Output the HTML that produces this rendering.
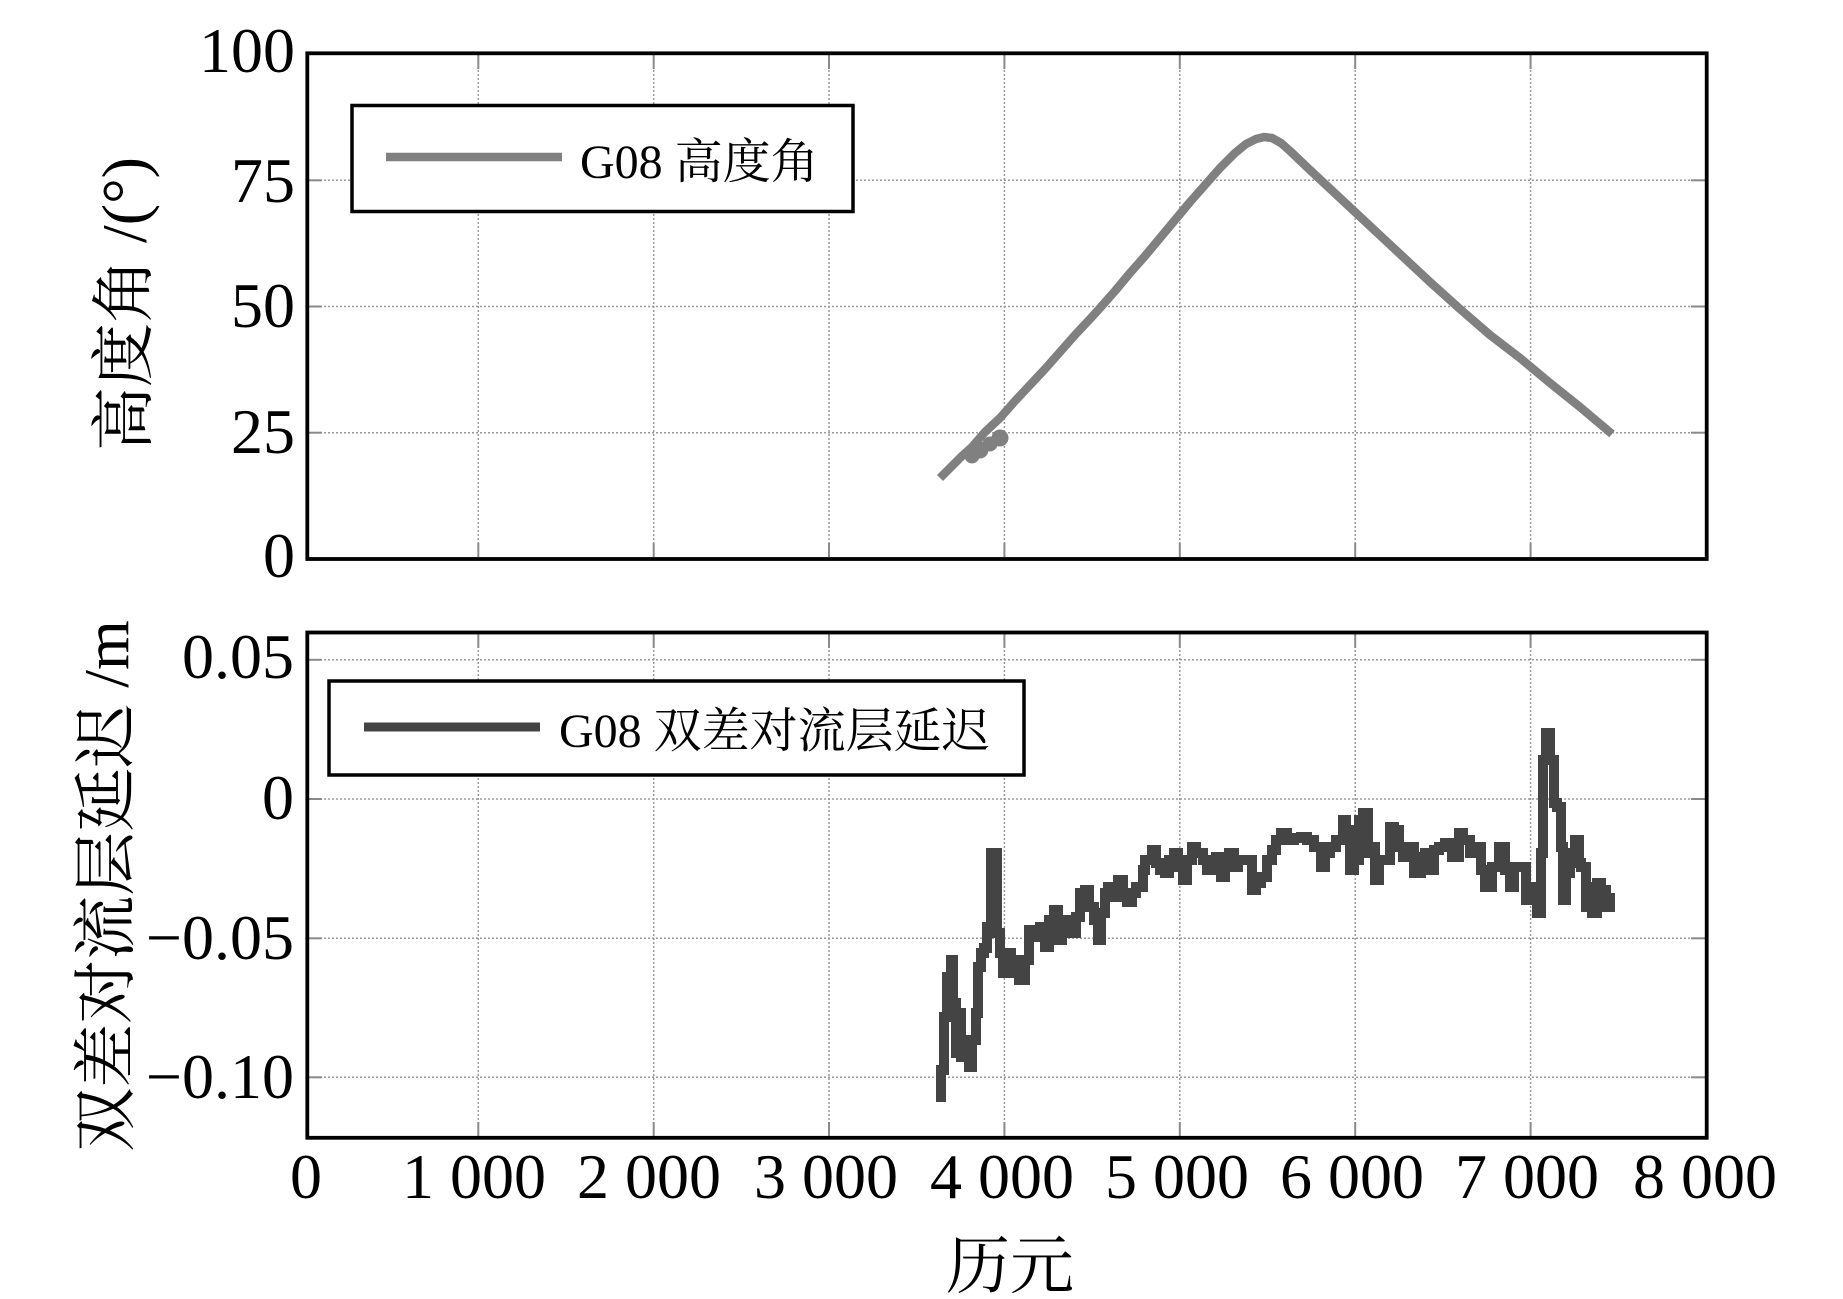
<!DOCTYPE html>
<html>
<head>
<meta charset="utf-8">
<style>
  html, body { margin:0; padding:0; background:#fff; }
  svg { display:block; }
  .num { font-family: "Liberation Serif", "Noto Serif CJK SC", serif; font-size:64px; fill:#000; }
  .lab { font-family: "Liberation Serif", "Noto Serif CJK SC", serif; font-size:64px; fill:#000; }
  .leg { font-family: "Liberation Serif", "Noto Serif CJK SC", serif; font-size:48px; fill:#000; }
</style>
</head>
<body>
<svg width="1843" height="1299" viewBox="0 0 1843 1299" xmlns="http://www.w3.org/2000/svg">
  <rect x="0" y="0" width="1843" height="1299" fill="#fff"/>

  <!-- ===== TOP PLOT ===== -->
  <g stroke="#9a9a9a" stroke-width="1.5" stroke-dasharray="2,2" fill="none">
    <line x1="478.3" y1="54" x2="478.3" y2="558"/>
    <line x1="653.7" y1="54" x2="653.7" y2="558"/>
    <line x1="829.0" y1="54" x2="829.0" y2="558"/>
    <line x1="1004.4" y1="54" x2="1004.4" y2="558"/>
    <line x1="1179.8" y1="54" x2="1179.8" y2="558"/>
    <line x1="1355.2" y1="54" x2="1355.2" y2="558"/>
    <line x1="1530.6" y1="54" x2="1530.6" y2="558"/>
    <line x1="308" y1="180.3" x2="1705" y2="180.3"/>
    <line x1="308" y1="306.5" x2="1705" y2="306.5"/>
    <line x1="308" y1="432.7" x2="1705" y2="432.7"/>
  </g>
  <g stroke="#8a8a8a" stroke-width="2" fill="none">
    <line x1="308" y1="180.3" x2="322" y2="180.3"/><line x1="1691" y1="180.3" x2="1705" y2="180.3"/>
    <line x1="308" y1="306.5" x2="322" y2="306.5"/><line x1="1691" y1="306.5" x2="1705" y2="306.5"/>
    <line x1="308" y1="432.7" x2="322" y2="432.7"/><line x1="1691" y1="432.7" x2="1705" y2="432.7"/>
    <line x1="478.3" y1="55" x2="478.3" y2="69"/><line x1="478.3" y1="543" x2="478.3" y2="557"/>
    <line x1="653.7" y1="55" x2="653.7" y2="69"/><line x1="653.7" y1="543" x2="653.7" y2="557"/>
    <line x1="829.0" y1="55" x2="829.0" y2="69"/><line x1="829.0" y1="543" x2="829.0" y2="557"/>
    <line x1="1004.4" y1="55" x2="1004.4" y2="69"/><line x1="1004.4" y1="543" x2="1004.4" y2="557"/>
    <line x1="1179.8" y1="55" x2="1179.8" y2="69"/><line x1="1179.8" y1="543" x2="1179.8" y2="557"/>
    <line x1="1355.2" y1="55" x2="1355.2" y2="69"/><line x1="1355.2" y1="543" x2="1355.2" y2="557"/>
    <line x1="1530.6" y1="55" x2="1530.6" y2="69"/><line x1="1530.6" y1="543" x2="1530.6" y2="557"/>
  </g>

  <!-- top curve -->
  <polyline fill="none" stroke="#808080" stroke-width="8.5" stroke-linejoin="round" stroke-linecap="butt"
    points="940,478 952,466 962,456 972,447 985,432 1000,418 1015,401 1030,385 1045,369 1060,352 1075,335 1090,319 1100,308 1115,291 1130,273 1145,256 1160,238 1175,220 1190,202 1205,185 1220,168 1235,153 1246,144 1256,139 1264,137 1272,138 1281,143 1290,151 1310,170 1340,198 1370,226 1400,254 1430,282 1460,309 1490,335 1520,358 1550,383 1580,407 1612,434"/>
  <g fill="#808080">
    <circle cx="972" cy="456" r="7.5"/>
    <circle cx="980" cy="450" r="8.5"/>
    <circle cx="990" cy="444" r="7.5"/>
    <circle cx="1000" cy="438" r="8.5"/>
  </g>

  <!-- frame -->
  <rect x="307.3" y="53.3" width="1399.4" height="505.7" fill="none" stroke="#000" stroke-width="3.8"/>

  <!-- legend top -->
  <rect x="352" y="105.5" width="501" height="106" fill="#fff" stroke="#000" stroke-width="3.5"/>
  <line x1="386" y1="157" x2="562" y2="157" stroke="#808080" stroke-width="8.5"/>
  <text class="leg" x="580" y="178">G08 高度角</text>

  <!-- y tick labels top -->
  <g class="num" text-anchor="end">
    <text x="295" y="72">100</text>
    <text x="295" y="202">75</text>
    <text x="295" y="327">50</text>
    <text x="295" y="453">25</text>
    <text x="295" y="577">0</text>
  </g>
  <text class="lab" text-anchor="middle" transform="translate(146,304) rotate(-90)">高度角 /(°)</text>

  <!-- ===== BOTTOM PLOT ===== -->
  <g stroke="#9a9a9a" stroke-width="1.5" stroke-dasharray="2,2" fill="none">
    <line x1="478.3" y1="634" x2="478.3" y2="1136"/>
    <line x1="653.7" y1="634" x2="653.7" y2="1136"/>
    <line x1="829.0" y1="634" x2="829.0" y2="1136"/>
    <line x1="1004.4" y1="634" x2="1004.4" y2="1136"/>
    <line x1="1179.8" y1="634" x2="1179.8" y2="1136"/>
    <line x1="1355.2" y1="634" x2="1355.2" y2="1136"/>
    <line x1="1530.6" y1="634" x2="1530.6" y2="1136"/>
    <line x1="308" y1="659.8" x2="1705" y2="659.8"/>
    <line x1="308" y1="799" x2="1705" y2="799"/>
    <line x1="308" y1="938.3" x2="1705" y2="938.3"/>
    <line x1="308" y1="1077.3" x2="1705" y2="1077.3"/>
  </g>
  <g stroke="#8a8a8a" stroke-width="2" fill="none">
    <line x1="308" y1="659.8" x2="322" y2="659.8"/><line x1="1691" y1="659.8" x2="1705" y2="659.8"/>
    <line x1="308" y1="799" x2="322" y2="799"/><line x1="1691" y1="799" x2="1705" y2="799"/>
    <line x1="308" y1="938.3" x2="322" y2="938.3"/><line x1="1691" y1="938.3" x2="1705" y2="938.3"/>
    <line x1="308" y1="1077.3" x2="322" y2="1077.3"/><line x1="1691" y1="1077.3" x2="1705" y2="1077.3"/>
    <line x1="478.3" y1="634" x2="478.3" y2="648"/><line x1="478.3" y1="1122" x2="478.3" y2="1136"/>
    <line x1="653.7" y1="634" x2="653.7" y2="648"/><line x1="653.7" y1="1122" x2="653.7" y2="1136"/>
    <line x1="829.0" y1="634" x2="829.0" y2="648"/><line x1="829.0" y1="1122" x2="829.0" y2="1136"/>
    <line x1="1004.4" y1="634" x2="1004.4" y2="648"/><line x1="1004.4" y1="1122" x2="1004.4" y2="1136"/>
    <line x1="1179.8" y1="634" x2="1179.8" y2="648"/><line x1="1179.8" y1="1122" x2="1179.8" y2="1136"/>
    <line x1="1355.2" y1="634" x2="1355.2" y2="648"/><line x1="1355.2" y1="1122" x2="1355.2" y2="1136"/>
    <line x1="1530.6" y1="634" x2="1530.6" y2="648"/><line x1="1530.6" y1="1122" x2="1530.6" y2="1136"/>
  </g>

  <!-- bottom curve -->
  <polyline fill="none" stroke="#444444" stroke-width="10" stroke-linejoin="miter" stroke-miterlimit="2" stroke-linecap="butt"
    points="941,1102 941,1070 944,1070 944,1017 947,1017 947,977 951,977 951,960 953,960 953,1003 956,1003 956,1053 958,1053 958,1013 961,1013 961,1057 965,1057 965,1040 969,1040 969,1067 972,1067 972,1040 976,1040 976,1013 978,1013 978,967 981,967 981,953 984,953 984,948 987,948 987,927 991,927 991,853 997,853 997,933 1000,933 1000,953 1003,953 1003,973 1007,973 1007,953 1011,953 1011,960 1015,960 1015,973 1019,973 1019,980 1025,980 1025,960 1029,960 1029,930 1034,930 1034,937 1040,937 1040,927 1045,927 1045,947 1049,947 1049,920 1054,920 1054,910 1058,910 1058,940 1062,940 1062,933 1067,933 1067,920 1071,920 1071,933 1076,933 1076,917 1080,917 1080,893 1085,893 1085,890 1089,890 1089,907 1094,907 1094,920 1098,920 1098,940 1101,940 1101,913 1105,913 1105,893 1108,893 1108,887 1114,887 1114,897 1118,897 1118,880 1123,880 1123,893 1127,893 1127,902 1132,902 1132,893 1136,893 1136,887 1143,887 1143,870 1145,870 1145,860 1152,860 1152,850 1156,850 1156,863 1160,863 1160,870 1165,870 1165,873 1169,873 1169,860 1174,860 1174,853 1178,853 1178,867 1183,867 1183,880 1187,880 1187,860 1192,860 1192,847 1196,847 1196,853 1203,853 1203,860 1207,860 1207,870 1212,870 1212,863 1216,863 1216,857 1221,857 1221,877 1225,877 1225,860 1229,860 1229,853 1234,853 1234,867 1238,867 1238,860 1245,860 1245,860 1252,860 1252,890 1256,890 1256,883 1261,883 1261,877 1267,877 1267,860 1272,860 1272,850 1276,850 1276,840 1281,840 1281,833 1287,833 1287,840 1294,840 1294,838 1301,838 1301,837 1307,837 1307,840 1314,840 1314,847 1321,847 1321,867 1325,867 1325,853 1330,853 1330,847 1336,847 1336,840 1343,840 1343,820 1346,820 1346,830 1350,830 1350,870 1354,870 1354,860 1359,860 1359,820 1363,820 1363,813 1368,813 1368,853 1372,853 1372,847 1375,847 1375,880 1379,880 1379,860 1383,860 1383,860 1390,860 1390,827 1394,827 1394,830 1399,830 1399,847 1403,847 1403,857 1408,857 1408,847 1414,847 1414,873 1421,873 1421,857 1425,857 1425,853 1430,853 1430,870 1434,870 1434,850 1439,850 1439,847 1445,847 1445,843 1452,843 1452,857 1459,857 1459,833 1463,833 1463,840 1470,840 1470,853 1474,853 1474,847 1481,847 1481,870 1485,870 1485,887 1492,887 1492,867 1499,867 1499,847 1505,847 1505,870 1510,870 1510,887 1514,887 1514,867 1519,867 1519,867 1526,867 1526,900 1530,900 1530,887 1537,887 1537,913 1541,913 1541,853 1543,853 1543,760 1546,760 1546,733 1550,733 1550,760 1554,760 1554,803 1557,803 1557,807 1561,807 1561,847 1563,847 1563,900 1566,900 1566,873 1570,873 1570,853 1575,853 1575,840 1579,840 1579,863 1581,863 1581,867 1586,867 1586,907 1588,907 1588,887 1592,887 1592,913 1597,913 1597,883 1601,883 1601,890 1606,890 1606,907 1610,907 1610,893"/>

  <!-- frame -->
  <rect x="307.3" y="632.5" width="1399.4" height="505.3" fill="none" stroke="#000" stroke-width="3.8"/>

  <!-- legend bottom -->
  <rect x="329" y="681" width="695" height="94" fill="#fff" stroke="#000" stroke-width="3.5"/>
  <line x1="364" y1="727" x2="540" y2="727" stroke="#444444" stroke-width="9"/>
  <text class="leg" x="559" y="747">G08 双差对流层延迟</text>

  <!-- y tick labels bottom -->
  <g class="num" text-anchor="end">
    <text x="294" y="678">0.05</text>
    <text x="294" y="819">0</text>
    <text x="294" y="959">−0.05</text>
    <text x="294" y="1098">−0.10</text>
  </g>
  <text class="lab" text-anchor="middle" transform="translate(128,886) rotate(-90)">双差对流层延迟 /m</text>

  <!-- x tick labels -->
  <g class="num" text-anchor="middle">
    <text x="306" y="1198">0</text>
    <text x="474" y="1198">1 000</text>
    <text x="649" y="1198">2 000</text>
    <text x="826" y="1198">3 000</text>
    <text x="1002" y="1198">4 000</text>
    <text x="1177" y="1198">5 000</text>
    <text x="1352" y="1198">6 000</text>
    <text x="1527" y="1198">7 000</text>
    <text x="1705" y="1198">8 000</text>
  </g>
  <text class="lab" text-anchor="middle" x="1010" y="1288">历元</text>
</svg>
</body>
</html>
